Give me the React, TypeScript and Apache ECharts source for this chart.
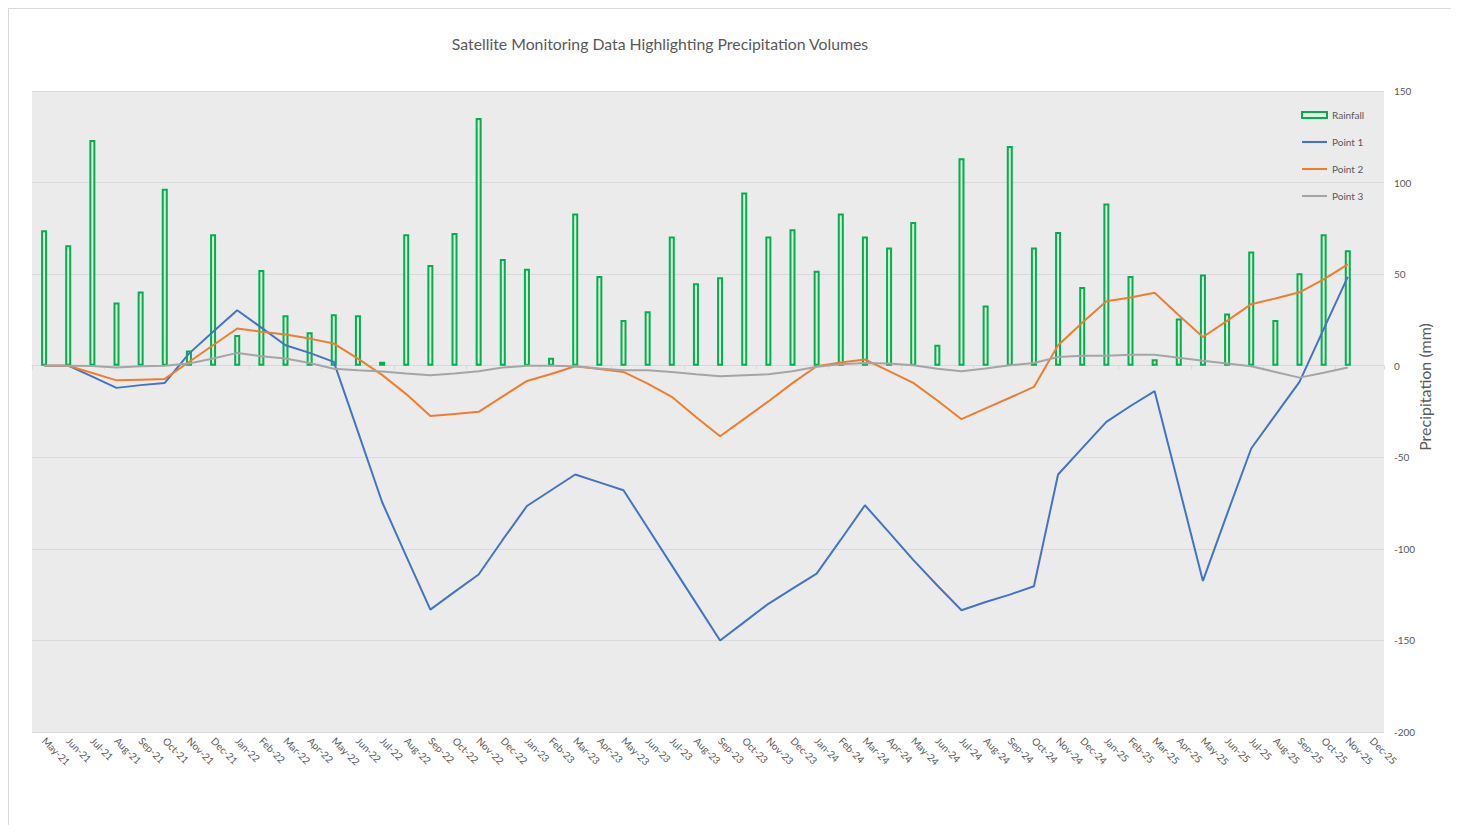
import React, { useEffect, useRef } from 'react';
import * as echarts from 'echarts';

const months = [
  'May-21', 'Jun-21', 'Jul-21', 'Aug-21', 'Sep-21', 'Oct-21', 'Nov-21', 'Dec-21',
  'Jan-22', 'Feb-22', 'Mar-22', 'Apr-22', 'May-22', 'Jun-22', 'Jul-22', 'Aug-22', 'Sep-22', 'Oct-22', 'Nov-22', 'Dec-22',
  'Jan-23', 'Feb-23', 'Mar-23', 'Apr-23', 'May-23', 'Jun-23', 'Jul-23', 'Aug-23', 'Sep-23', 'Oct-23', 'Nov-23', 'Dec-23',
  'Jan-24', 'Feb-24', 'Mar-24', 'Apr-24', 'May-24', 'Jun-24', 'Jul-24', 'Aug-24', 'Sep-24', 'Oct-24', 'Nov-24', 'Dec-24',
  'Jan-25', 'Feb-25', 'Mar-25', 'Apr-25', 'May-25', 'Jun-25', 'Jul-25', 'Aug-25', 'Sep-25', 'Oct-25', 'Nov-25', 'Dec-25',
];

const rainfall = [
  74, 65.8, 123.3, 34.5, 40.5, 96.6, 8.3, 71.8,
  16.8, 52.3, 27.6, 18.3, 28.1, 27.6, 2.2, 71.8, 55, 72.5, 135.3, 58.3,
  52.9, 4.3, 83.1, 49, 25, 29.8, 70.5, 45, 48.3, 94.6, 70.5, 74.5,
  51.8, 83.1, 70.5, 64.5, 78.5, 11.5, 113.3, 32.9, 120, 64.5, 73, 43,
  88.6, 49, 3.5, 25.8, 49.8, 28.5, 62.4, 25, 50.5, 71.8, 63, null,
];

const point1 = [
  0, 0, -6, -12.1, -10.6, -9.4, 6.6, 18.5,
  30.3, 20.8, 11.2, 7, 2.1, -36, -74.4, -104, -133.2, -123.5, -114, -95,
  -76.6, -68, -59.4, -63.7, -68, -88.5, -109, -129.5, -150, -140, -130, -121.7,
  -113.5, -95, -76.2, -91, -106, -120, -133.5, -129, -125, -120.4, -59.4, -45,
  -30.7, -22, -13.9, -65.7, -117.5, -81, -45.2, -27, -8.8, 20, 48.5, null,
];

const point2 = [
  0, 0, -4, -8, -7.6, -7.2, 2, 11.2,
  20.3, 18.5, 17, 14.8, 12.1, 3.9, -5, -15.5, -27.4, -26.3, -25.2, -16.7,
  -8.3, -4.5, -0.3, -1.8, -3.4, -9.8, -17, -28, -38.5, -29, -19.5, -9.5,
  -0.3, 1.8, 3.4, -3, -9.4, -19, -29.2, -23.3, -17.5, -11.6, 11.2, 23.4,
  35.2, 37.2, 39.8, 27.6, 15.7, 24.5, 33.6, 36.7, 40.1, 47.1, 55.3, null,
];

const point3 = [
  0, 0, -0.2, -1, -0.3, 0, 1.2, 3.9,
  7, 5.2, 3.9, 1.5, -1.7, -2.5, -3.1, -4.3, -5.2, -4.3, -3, -1,
  0, 0, -0.3, -1.5, -2.5, -2.5, -3.4, -4.7, -5.8, -5.2, -4.7, -3,
  -0.6, 0.8, 1.5, 1.2, 0.2, -1.6, -3, -1.5, 0.2, 1.5, 4.8, 5.5,
  5.5, 6, 6, 4.3, 2.7, 1.2, -0.3, -3.4, -6.5, -3.8, -1, null,
];

const TITLE = 'Satellite Monitoring Data Highlighting Precipitation Volumes';
const Y_NAME = 'Precipitation (mm)';
const FONT = 'Lato';
const TEXT_COLOR = '#595959';
const LINE_ICON = 'path://M0,0L24,0L24,2L0,2Z';

export default function App() {
  const ref = useRef<HTMLDivElement>(null);
  useEffect(() => {
    document.documentElement.style.overflow = 'hidden';
    const chart = echarts.init(ref.current as HTMLDivElement, null, { renderer: 'svg' });
    chart.setOption({
      animation: false,
      textStyle: { fontFamily: FONT },
      grid: {
        left: 23, top: 82, width: 1352, height: 641,
        show: true, backgroundColor: '#ebebeb', borderWidth: 0,
      },
      xAxis: [
        {
          type: 'category', data: months, position: 'bottom',
          axisLine: { show: false, onZero: false },
          axisTick: { show: false },
          axisLabel: { interval: 0, rotate: -45, fontSize: 10, color: TEXT_COLOR, margin: 7, fontFamily: FONT },
        },
        {
          type: 'category', data: months, position: 'bottom',
          axisLine: { show: true, onZero: true, lineStyle: { color: '#d9d9d9', width: 1 } },
          axisTick: { show: true, length: 4, lineStyle: { color: '#d9d9d9' } },
          axisLabel: { show: false },
        },
      ],
      yAxis: {
        type: 'value', position: 'right', min: -200, max: 150, interval: 50,
        axisLine: { show: false }, axisTick: { show: false },
        splitLine: { lineStyle: { color: '#d9d9d9', width: 1 } },
        axisLabel: { fontSize: 10, color: TEXT_COLOR, margin: 10, fontFamily: FONT },
      },
      legend: {
        orient: 'vertical', left: 1287, top: 96,
        itemWidth: 25, itemHeight: 6, itemGap: 17,
        textStyle: { fontSize: 10, color: TEXT_COLOR, fontFamily: FONT },
        data: [
          { name: 'Rainfall', icon: 'rect' },
          { name: 'Point 1', icon: LINE_ICON },
          { name: 'Point 2', icon: LINE_ICON },
          { name: 'Point 3', icon: LINE_ICON },
        ],
      },
      graphic: [
        {
          type: 'text', x: 651, y: 34,
          style: {
            text: TITLE, fontSize: 15.8, fill: TEXT_COLOR, fontFamily: FONT,
            align: 'center', verticalAlign: 'middle', textAlign: 'center', textVerticalAlign: 'middle',
          },
        },
        {
          type: 'text', x: 1415, y: 378, rotation: Math.PI / 2,
          style: {
            text: Y_NAME, fontSize: 16, fill: TEXT_COLOR, fontFamily: FONT,
            align: 'center', verticalAlign: 'middle', textAlign: 'center', textVerticalAlign: 'middle',
          },
        },
      ],
      series: [
        {
          name: 'Rainfall', type: 'bar', data: rainfall, barWidth: 6,
          itemStyle: { color: '#e2efda', borderColor: '#00b050', borderWidth: 2 },
        },
        {
          name: 'Point 1', type: 'line', data: point1, symbol: 'none', showSymbol: false,
          lineStyle: { color: '#4472c4', width: 2 }, itemStyle: { color: '#4472c4' },
        },
        {
          name: 'Point 2', type: 'line', data: point2, symbol: 'none', showSymbol: false,
          lineStyle: { color: '#ed7d31', width: 2 }, itemStyle: { color: '#ed7d31' },
        },
        {
          name: 'Point 3', type: 'line', data: point3, symbol: 'none', showSymbol: false,
          lineStyle: { color: '#a5a5a5', width: 2 }, itemStyle: { color: '#a5a5a5' },
        },
      ],
    });
    return () => chart.dispose();
  }, []);
  return (
    <div style={{ width: 1444, height: 830, border: '1px solid #d9d9d9', boxSizing: 'border-box', background: '#fff' }}>
      <div ref={ref} style={{ width: 1442, height: 828 }} />
    </div>
  );
}
